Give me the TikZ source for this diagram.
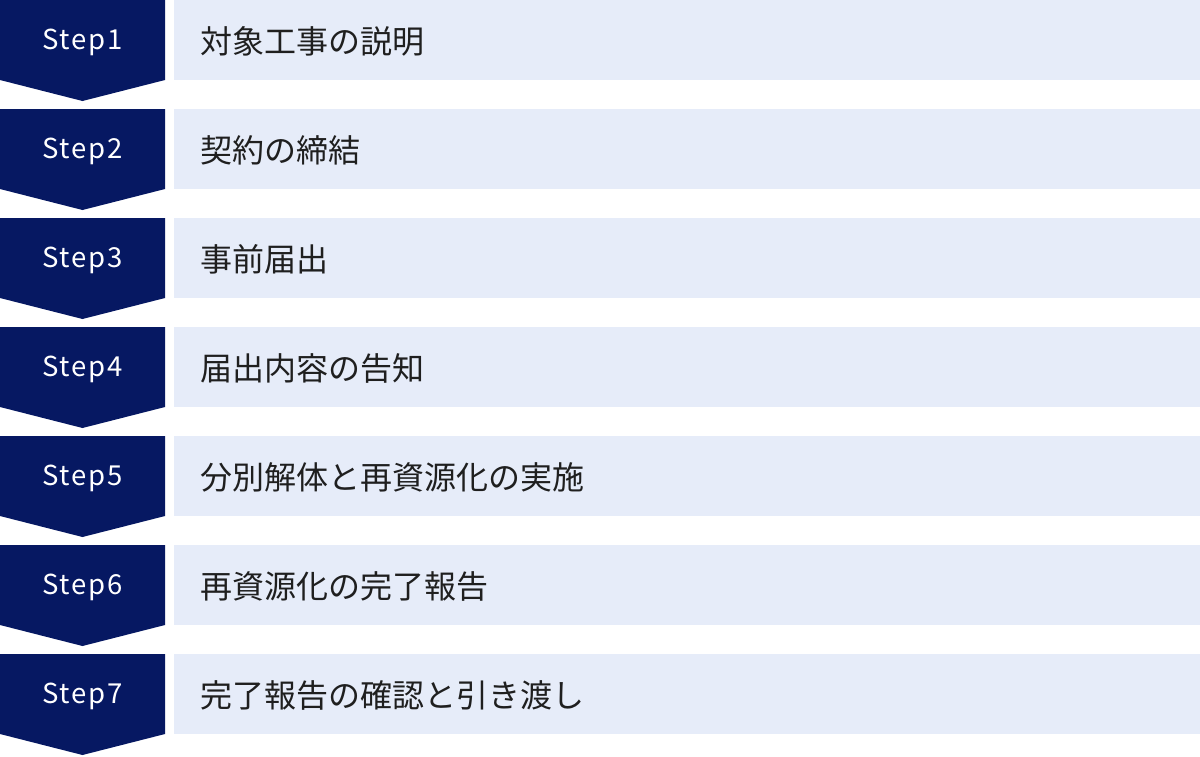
\documentclass[tikz,border=0pt]{standalone}
\usepackage{fontspec}
\setmainfont{Noto Sans CJK JP}
\newfontfamily\stepfont[LetterSpace=7]{Noto Sans CJK JP}
\newfontfamily\jpfont{Noto Sans CJK JP}
\definecolor{navy}{RGB}{6,24,98}
\definecolor{lightbox}{RGB}{230,236,249}
\begin{document}
\begin{tikzpicture}[x=1pt,y=-1pt,
  stepshape/.style={fill=navy,draw=none},
  itembox/.style={fill=lightbox,draw=none},
  steplabel/.style={anchor=base,text=white,inner sep=0pt,font=\stepfont\fontsize{27.5}{31}\selectfont},
  itemlabel/.style={anchor=base west,text=black!88,inner sep=0pt,font=\jpfont\fontsize{32}{36}\selectfont}]
\useasboundingbox (0,0) rectangle (1200,756);
\foreach \i/\t in {1/対象工事の説明,2/契約の締結,3/事前届出,4/届出内容の告知,5/分別解体と再資源化の実施,6/再資源化の完了報告,7/完了報告の確認と引き渡し}{
  \pgfmathsetmacro{\yy}{(\i-1)*109}
  \path[stepshape] (0,\yy) -- (165,\yy) -- (165,\yy+80) -- (82.5,\yy+101) -- (0,\yy+80) -- cycle;
  \path[itembox] (174,\yy) rectangle (1200,\yy+80);
  \node[steplabel] (s\i) at (82.5,\yy+49.5) {Step\i};
  \node[itemlabel] (t\i) at (200,\yy+53.5) {\t};
}
\end{tikzpicture}
\end{document}
